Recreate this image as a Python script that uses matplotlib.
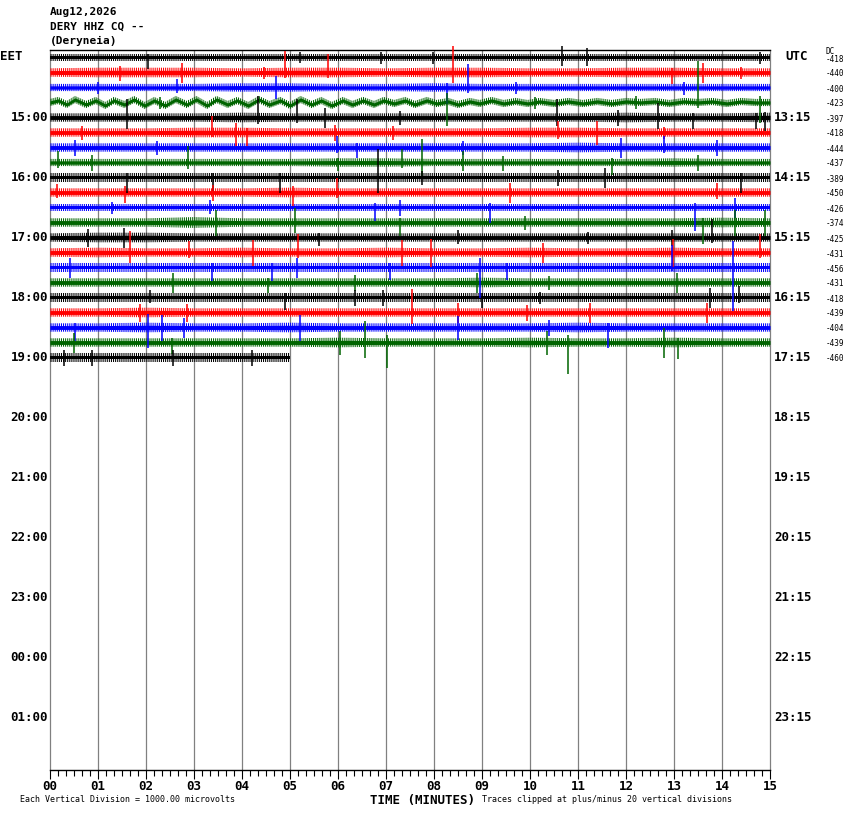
import numpy as np
import matplotlib.pyplot as plt
from matplotlib.ticker import MultipleLocator

W, H = 850, 814
ROW_PX = 15.0

# header
title_lines = ["Aug12,2026", "DERY HHZ CQ --", "(Deryneia)"]

# trace colours cycle
colors = ["black", "red", "blue", "#006400"]

# half width of each trace (pixels), read once per minute
env = [
    [3, 3, 3, 3, 3, 3, 3, 3, 3, 3, 3, 3, 3, 3, 3, 3],
    [3.5, 4, 4, 4, 3.5, 4, 4, 3.5, 4, 4, 3.5, 3.5, 4, 4, 3.5, 3.5],
    [3, 3, 3, 3, 3.5, 3.5, 3, 3, 3.5, 3, 3, 3, 3, 3, 3, 3],
    None,
    [3.5, 3.5, 3.5, 3.5, 4, 3.5, 3.5, 3.5, 3.5, 3.5, 3.5, 3.5, 4, 3.5, 3.5, 4],
    [3.5, 3.5, 3.5, 4, 4, 3.5, 3.5, 3.5, 3.5, 3.5, 4, 4, 3.5, 3.5, 3.5, 3.5],
    [3.5, 3.5, 3.5, 3.5, 3.5, 3.5, 3.5, 3.5, 3.5, 3.5, 3.5, 4, 3.5, 3.5, 3.5, 3.5],
    [3, 3, 3, 3, 3, 3, 3.5, 3.5, 3, 3, 3, 3, 3, 3.5, 3, 3],
    [3.5, 3.5, 3.5, 3.5, 3.5, 3.5, 3.5, 3.5, 3.5, 3.5, 3.5, 3.5, 3.5, 3.5, 3.5, 3.5],
    [3.5, 3.5, 3.5, 3.5, 3.5, 4, 3.5, 3.5, 3.5, 3.5, 3.5, 3.5, 3.5, 3.5, 3.5, 3.5],
    [3, 3, 3, 3, 3, 3, 3, 3, 3, 3, 3, 3, 3, 3, 3, 3],
    [3.5, 3.5, 3.5, 4.5, 3.5, 3.5, 3.5, 3.5, 3.5, 3.5, 3.5, 3.5, 3.5, 3.5, 4, 3.5],
    [3.5, 4, 4, 3.5, 3.5, 3.5, 3.5, 3.5, 3.5, 3.5, 3.5, 3.5, 3.5, 3.5, 3.5, 3.5],
    [3.5, 4, 3.5, 3.5, 4, 3.5, 3.5, 4, 3.5, 3.5, 4, 3.5, 3.5, 4, 3.5, 3.5],
    [3.5, 3.5, 3.5, 3.5, 3.5, 3.5, 3.5, 3.5, 3.5, 3.5, 3.5, 3.5, 3.5, 3.5, 3.5, 3.5],
    [3.5, 3.5, 3.5, 3.5, 3.5, 3.5, 3.5, 3.5, 3.5, 4, 3.5, 3.5, 3.5, 3.5, 3.5, 3.5],
    [3.5, 3.5, 3.5, 3.5, 3.5, 3.5, 3.5, 3.5, 3.5, 3.5, 3.5, 3.5, 3.5, 3.5, 3.5, 3.5],
    [3.5, 3.5, 4, 3.5, 3.5, 3.5, 3.5, 3.5, 3.5, 3.5, 3.5, 3.5, 3.5, 3.5, 3.5, 3.5],
    [3.5, 3.5, 4, 3.5, 3.5, 4, 3.5, 3.5, 3.5, 3.5, 3.5, 4, 3.5, 3.5, 3.5, 3.5],
    [3.5, 3.5, 3.5, 3.5, 3.5, 3.5, 4, 3.5, 3.5, 3.5, 4, 3.5, 3.5, 4, 3.5, 3.5],
    [3.5, 3.5, 3.5, 3.5, 3.5, 3.5],
]

# slow swell on the green trace of 14:45 (minute, offset px, up positive)
wave3 = [(0.0, 0), (0.17, 2), (0.35, -2), (0.52, 3), (0.75, -2), (0.95, 2),
         (1.15, -3), (1.33, 2), (1.55, -2), (1.75, 3), (1.97, -3), (2.17, 2),
         (2.4, -3), (2.62, 3), (2.85, -2), (3.05, 3), (3.27, -3), (3.47, 3),
         (3.7, -2), (3.9, 2), (4.13, -3), (4.35, 3), (4.57, -2), (4.8, 2),
         (5.0, -3), (5.22, 3), (5.45, -2), (5.65, 2), (5.87, -3), (6.1, 2),
         (6.3, -2), (6.52, 2), (6.75, -2), (6.95, 2), (7.17, -1), (7.4, 2),
         (7.6, -2), (7.85, 2), (8.05, -1), (8.3, 1), (8.5, -2), (8.75, 1),
         (8.95, -1), (9.2, 2), (9.45, -1), (9.7, 1), (9.95, -1), (10.2, 1),
         (10.5, -1), (10.8, 1), (11.1, -1), (11.4, 1), (11.7, -1), (12.0, 1),
         (12.3, 0), (12.6, 1), (12.9, -1), (13.2, 1), (13.5, 0), (13.8, 1),
         (14.1, -1), (14.4, 1), (14.7, 0), (15.0, 0)]
wave3_env = 3.0

# spikes per trace: (minute, px above, px below)
spikes = [
    [(2.05, 4, 11), (5.2, 6, 5), (6.9, 6, 6), (7.98, 6, 6), (10.67, 12, 8), (11.19, 10, 8), (14.8, 6, 6)],
    [(1.46, 7, 8), (2.75, 10, 10), (4.45, 6, 6), (4.9, 22, 5), (5.8, 19, 5), (8.4, 27, 10), (12.96, 5, 11), (13.6, 10, 10), (14.4, 6, 6)],
    [(1.0, 6, 6), (2.64, 9, 5), (4.7, 12, 11), (8.27, 5, 16), (8.7, 24, 5), (9.7, 6, 6), (13.2, 6, 7)],
    [(2.3, 6, 6), (8.27, 10, 23), (10.1, 6, 6), (12.2, 7, 6), (13.5, 42, 5), (14.8, 7, 20)],
    [(1.6, 19, 11), (4.33, 22, 6), (5.15, 19, 5), (5.73, 10, 10), (7.3, 7, 7), (10.56, 19, 8), (11.83, 8, 8), (12.67, 15, 11), (13.4, 5, 11), (14.7, 5, 11), (14.9, 6, 13)],
    [(0.66, 7, 7), (3.38, 17, 4), (3.88, 10, 13), (4.1, 5, 13), (5.94, 8, 8), (7.15, 7, 7), (10.58, 12, 6), (11.4, 12, 12), (12.8, 6, 6)],
    [(0.52, 8, 8), (2.23, 7, 7), (5.98, 12, 5), (6.4, 5, 10), (8.6, 7, 7), (11.9, 10, 10), (12.8, 12, 5), (13.9, 8, 8)],
    [(0.17, 12, 5), (0.87, 8, 8), (2.87, 17, 6), (6.0, 5, 8), (7.33, 14, 5), (7.75, 24, 13), (8.6, 12, 8), (9.44, 7, 8), (11.7, 5, 12), (13.5, 8, 8)],
    [(1.6, 5, 15), (3.4, 5, 13), (4.79, 5, 15), (6.83, 29, 15), (7.75, 7, 7), (10.58, 8, 8), (11.56, 10, 10), (14.4, 5, 15)],
    [(0.15, 9, 5), (1.56, 7, 10), (3.4, 8, 8), (5.06, 7, 13), (5.98, 15, 5), (9.58, 10, 10), (13.9, 10, 6)],
    [(1.3, 6, 6), (3.33, 8, 6), (6.77, 5, 13), (7.3, 8, 8), (9.17, 5, 15), (13.44, 5, 23), (14.27, 10, 10)],
    [(3.45, 13, 13), (5.1, 15, 10), (7.3, 5, 13), (9.9, 7, 7), (13.6, 5, 21), (14.27, 13, 13), (14.9, 13, 13)],
    [(0.8, 9, 9), (1.55, 10, 10), (5.6, 5, 8), (8.5, 8, 6), (11.2, 6, 6), (12.96, 8, 8), (13.8, 19, 5)],
    [(1.66, 22, 10), (2.9, 12, 5), (4.23, 13, 13), (5.17, 19, 5), (7.33, 13, 13), (7.93, 14, 14), (10.27, 10, 10), (12.98, 14, 14), (14.8, 19, 5)],
    [(0.42, 10, 10), (3.38, 5, 13), (4.62, 5, 13), (5.15, 10, 10), (7.08, 5, 12), (8.96, 10, 30), (9.52, 5, 12), (12.96, 23, 3), (14.23, 27, 43)],
    [(2.56, 10, 10), (4.54, 5, 10), (6.35, 8, 8), (8.9, 10, 10), (10.4, 7, 7), (13.06, 10, 10)],
    [(2.08, 8, 5), (4.9, 5, 12), (6.35, 8, 8), (6.93, 8, 8), (9.0, 5, 10), (10.2, 6, 6), (13.75, 10, 10), (14.35, 12, 5)],
    [(1.88, 9, 9), (2.85, 9, 9), (7.55, 24, 11), (8.5, 10, 10), (9.94, 8, 8), (11.25, 10, 10), (13.69, 10, 10)],
    [(0.52, 5, 13), (2.05, 14, 20), (2.33, 13, 13), (2.8, 10, 10), (5.2, 13, 13), (8.5, 12, 12), (10.4, 8, 8), (11.63, 5, 20)],
    [(0.5, 10, 10), (2.54, 5, 11), (6.04, 12, 12), (6.56, 22, 15), (7.02, 8, 25), (10.35, 12, 12), (10.79, 8, 31), (12.8, 15, 15), (13.08, 5, 16)],
    [(0.3, 8, 8), (0.87, 8, 8), (2.56, 8, 8), (4.2, 8, 8)],
]

dc_values = ["-418", "-440", "-400", "-423", "-397", "-418", "-444", "-437",
             "-389", "-450", "-426", "-374", "-425", "-431", "-456", "-431",
             "-418", "-439", "-404", "-439", "-460"]

eet_labels = ["15:00", "16:00", "17:00", "18:00", "19:00", "20:00",
              "21:00", "22:00", "23:00", "00:00", "01:00"]
utc_labels = ["13:15", "14:15", "15:15", "16:15", "17:15", "18:15",
              "19:15", "20:15", "21:15", "22:15", "23:15"]
minute_labels = ["%02d" % m for m in range(16)]

n_rows = 48

plt.rcParams["hatch.linewidth"] = 0.75

fig = plt.figure(figsize=(W / 100, H / 100), dpi=100)
ax = fig.add_axes([50 / W, 1 - 770 / H, 720 / W, 720 / H])
ax.set_xlim(0, 15)
ax.set_ylim(n_rows - 0.5, -0.5)

# minute grid
ax.vlines(np.arange(1, 15), -0.5, n_rows - 0.5, color="#808080", lw=0.9, zorder=1)


def band(t, mid, half, col):
    # solid core plus a hatched fringe that looks like the noisy trace edge
    ax.fill_between(t, mid - half * 0.55, mid + half * 0.55, color=col, lw=0, zorder=3)
    ax.fill_between(t, mid - half * 1.2, mid + half * 1.2, facecolor="none",
                    edgecolor=col, hatch="||||||||", lw=0, zorder=3)


for k in range(len(dc_values)):
    col = colors[k % 4]
    if k == 3:
        t = np.array([p[0] for p in wave3])
        w = np.array([p[1] for p in wave3]) / ROW_PX
        band(t, k - w, wave3_env / ROW_PX, col)
    else:
        e = np.array(env[k]) / ROW_PX
        t = np.arange(len(e))
        band(t, k, e, col)
    for m, up, dn in spikes[k]:
        ax.vlines(m, k - up / ROW_PX, k + dn / ROW_PX, color=col, lw=1.1,
                  zorder=4, clip_on=False)

ax.set_yticks([])
ax.set_xticks(np.arange(16))
ax.set_xticklabels(minute_labels, fontfamily="DejaVu Sans Mono",
                   fontweight="bold", fontsize=9)
ax.xaxis.set_minor_locator(MultipleLocator(1 / 6))
ax.tick_params(axis="x", which="major", direction="out", length=6.5, width=0.8, pad=1)
ax.tick_params(axis="x", which="minor", direction="out", length=4.3, width=0.8)
for s in ["left", "right"]:
    ax.spines[s].set_color("#808080")
    ax.spines[s].set_linewidth(0.9)
for s in ["top", "bottom"]:
    ax.spines[s].set_linewidth(1.0)


def ftext(x, y, s, **kw):
    fig.text(x / W, 1 - y / H, s, fontfamily="DejaVu Sans Mono", **kw)


for i, s in enumerate(title_lines):
    ftext(50, 12 + 14.5 * i, s, fontsize=8, fontweight="bold", va="center")

ftext(0, 57, "EET", fontsize=9, fontweight="bold", va="center")
ftext(785, 57, "UTC", fontsize=9, fontweight="bold", va="center")
for i, s in enumerate(eet_labels):
    ftext(48, 57.5 + 60 * (i + 1), s, fontsize=9, fontweight="bold", va="center", ha="right")
for i, s in enumerate(utc_labels):
    ftext(774, 57.5 + 60 * (i + 1), s, fontsize=9, fontweight="bold", va="center")

ftext(826, 51, "DC", fontsize=5.5, va="center")
for k, s in enumerate(dc_values):
    ftext(826, 59 + 15 * k, s, fontsize=5.5, va="center")

ftext(422, 800.5, "TIME (MINUTES)", fontsize=9, fontweight="bold", va="center", ha="center")
ftext(20, 800, "Each Vertical Division = 1000.00 microvolts", fontsize=6, va="center")
ftext(482, 800, "Traces clipped at plus/minus 20 vertical divisions", fontsize=6, va="center")

fig.savefig("out.png", dpi=100)
